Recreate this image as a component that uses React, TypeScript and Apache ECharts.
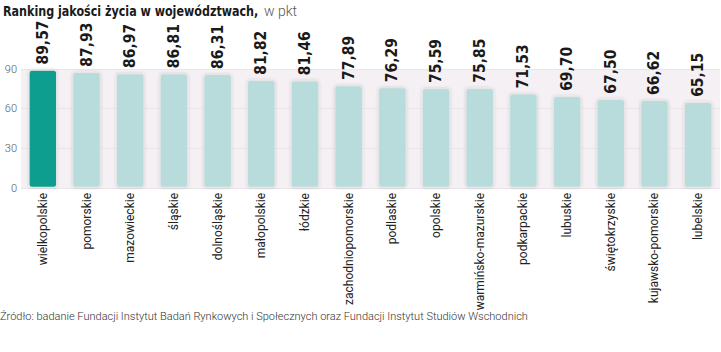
import React, { useEffect, useRef } from "react";
import * as echarts from "echarts";

const categories = [
  "wielkopolskie", "pomorskie", "mazowieckie", "śląskie", "dolnośląskie",
  "małopolskie", "łódzkie", "zachodniopomorskie", "podlaskie", "opolskie",
  "warmińsko-mazurskie", "podkarpackie", "lubuskie", "świętokrzyskie",
  "kujawsko-pomorskie", "lubelskie",
];
const values = [89.57, 87.93, 86.97, 86.81, 86.31, 81.82, 81.46, 77.89, 76.29, 75.59, 75.85, 71.53, 69.7, 67.5, 66.62, 65.15];
const yTicks = [0, 30, 60, 90];
const titleBold = "Ranking jakości życia w województwach,";
const titleUnit = "w pkt";
const source = "Źródło: badanie Fundacji Instytut Badań Rynkowych i Społecznych oraz Fundacji Instytut Studiów Wschodnich";

export default function App() {
  const ref = useRef<HTMLDivElement>(null);
  useEffect(() => {
    if (!ref.current) return;
    const chart = echarts.init(ref.current, null, { renderer: "svg" });
    chart.setOption({
      animation: false,
      backgroundColor: "#ffffff",
      graphic: [
        {
          type: "text",
          x: 3,
          y: 3,
          scaleX: 0.855,
          style: {
            text: titleBold,
            fontFamily: "DejaVu Sans Condensed",
            fontWeight: "bold",
            fontSize: 14.5,
            fill: "#1a1a1a",
          },
        },
        {
          type: "text",
          x: 264,
          y: 4,
          style: { text: titleUnit, fontFamily: "Roboto", fontWeight: 300, fontSize: 14, fill: "#555555" },
        },
        {
          type: "text",
          left: 0,
          top: 311,
          style: { text: source, fontFamily: "Roboto", fontWeight: 300, fontSize: 11, fill: "#333333" },
        },
      ],
      grid: {
        left: 21,
        right: 1,
        top: 69,
        bottom: 164,
        show: true,
        backgroundColor: "#f5f0f4",
        borderWidth: 0,
      },
      xAxis: {
        type: "category",
        data: categories,
        axisLine: { show: false },
        axisTick: { show: false },
        axisLabel: {
          rotate: 90,
          interval: 0,
          margin: 5,
          fontFamily: "Roboto",
          fontWeight: 400,
          fontSize: 12,
          color: "#222222",
        },
      },
      yAxis: {
        type: "value",
        min: yTicks[0],
        max: yTicks[yTicks.length - 1],
        interval: 30,
        axisLine: { show: false },
        axisTick: { show: false },
        splitLine: { lineStyle: { color: "#ebe5ea", width: 1 } },
        axisLabel: { margin: 4, fontFamily: "Roboto", fontWeight: 300, fontSize: 11, color: "#555555" },
      },
      series: [
        {
          type: "bar",
          barWidth: "66%",
          data: values.map((v, i) => ({
            value: v,
            itemStyle: { color: i === 0 ? "#0b9e8f" : "#b7dcdb" },
          })),
          itemStyle: {
            borderColor: "#e6e6e6",
            borderWidth: 1.2,
            borderRadius: 3,
            shadowBlur: 3,
            shadowColor: "rgba(0,0,0,0.15)",
          },
          label: {
            show: true,
            position: "top",
            rotate: 90,
            align: "left",
            verticalAlign: "middle",
            distance: 5,
            fontFamily: "DejaVu Sans Condensed",
            fontWeight: "bold",
            fontSize: 15.5,
            color: "#1a1a1a",
            formatter: (p: any) => p.value.toFixed(2).replace(".", ","),
          },
        },
      ],
    });
    return () => chart.dispose();
  }, []);
  return <div ref={ref} style={{ width: 721, height: 352, position: "absolute", left: 0, top: 0 }} />;
}
